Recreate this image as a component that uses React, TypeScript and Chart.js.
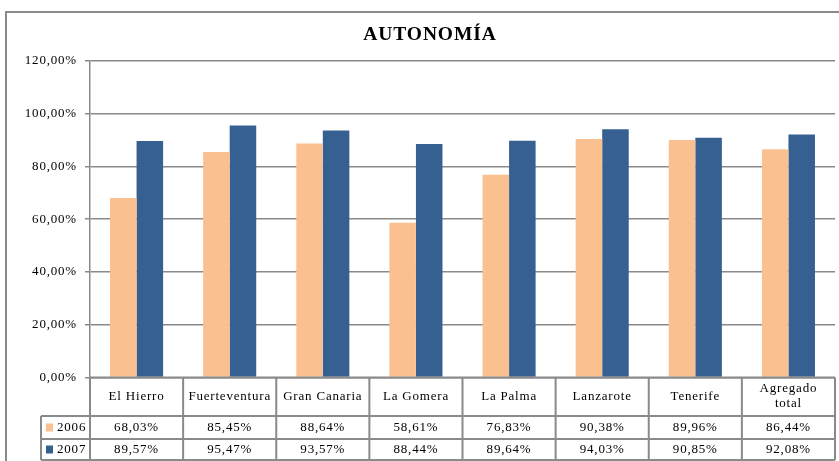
import React, { useEffect, useRef } from 'react';
import { Chart, registerables } from 'chart.js';

Chart.register(...registerables);

const categories = ['El Hierro', 'Fuerteventura', 'Gran Canaria', 'La Gomera', 'La Palma', 'Lanzarote', 'Tenerife', 'Agregado total'];
const headerLines = [['El Hierro'], ['Fuerteventura'], ['Gran Canaria'], ['La Gomera'], ['La Palma'], ['Lanzarote'], ['Tenerife'], ['Agregado', 'total']];
const seriesNames = ['2006', '2007'];
const values2006 = [68.03, 85.45, 88.64, 58.61, 76.83, 90.38, 89.96, 86.44];
const values2007 = [89.57, 95.47, 93.57, 88.44, 89.64, 94.03, 90.85, 92.08];
const yMin = 0;
const yMax = 120;
const yStep = 20;
const title = 'AUTONOMÍA';

const COLOR_2006 = '#FAC090';
const COLOR_2007 = '#376092';
const LINE = '#8a8a8a';
const FONT = '"Liberation Serif", "Times New Roman", serif';

const fmt = (v: number) => v.toFixed(2).replace('.', ',') + '%';

const tablePlugin = {
  id: 'dataTable',
  beforeDraw(chart: any) {
    const ctx = chart.ctx;
    ctx.save();
    ctx.fillStyle = '#ffffff';
    ctx.fillRect(0, 0, chart.width, chart.height);
    ctx.strokeStyle = LINE;
    ctx.lineWidth = 2;
    ctx.strokeRect(6, 12, chart.width + 60, chart.height + 60);
    // title
    (ctx as any).letterSpacing = '0.9px';
    ctx.fillStyle = '#000';
    ctx.font = 'bold 19.5px ' + FONT;
    ctx.textAlign = 'center';
    ctx.textBaseline = 'alphabetic';
    ctx.fillText(title, 430, 40);
    ctx.restore();
    (ctx as any).letterSpacing = '0.8px';
  },
  afterDraw(chart: any) {
    const ctx = chart.ctx;
    const area = chart.chartArea;
    const xs = chart.scales.x;
    const half = (xs.getPixelForValue(1) - xs.getPixelForValue(0)) / 2;
    const top = area.bottom;
    const r1 = 416;
    const r2 = 439;
    const r3 = 460;
    const legendLeft = 41;
    ctx.save();
    (ctx as any).letterSpacing = '0.8px';
    ctx.strokeStyle = LINE;
    ctx.lineWidth = 2;
    ctx.beginPath();
    ctx.moveTo(area.left, top); ctx.lineTo(area.right, top);
    [r1, r2, r3].forEach((y) => { ctx.moveTo(legendLeft, y); ctx.lineTo(area.right, y); });
    ctx.moveTo(legendLeft, r1); ctx.lineTo(legendLeft, r3);
    ctx.moveTo(area.left, top); ctx.lineTo(area.left, r3);
    categories.forEach((_, i) => {
      const xr = xs.getPixelForValue(i) + half;
      ctx.moveTo(xr, top); ctx.lineTo(xr, r3);
    });
    ctx.stroke();

    ctx.fillStyle = '#000';
    ctx.font = '13px ' + FONT;
    ctx.textAlign = 'center';
    ctx.textBaseline = 'middle';
    headerLines.forEach((lines, i) => {
      const cx = xs.getPixelForValue(i);
      if (lines.length === 1) {
        ctx.fillText(lines[0], cx, (top + r1) / 2);
      } else {
        ctx.fillText(lines[0], cx, (top + r1) / 2 - 8);
        ctx.fillText(lines[1], cx, (top + r1) / 2 + 7);
      }
    });
    const rows = [values2006, values2007];
    const rowCenters = [(r1 + r2) / 2, (r2 + r3) / 2];
    const colors = [COLOR_2006, COLOR_2007];
    rows.forEach((vals, ri) => {
      const cy = rowCenters[ri];
      vals.forEach((v, i) => {
        ctx.fillText(fmt(v), xs.getPixelForValue(i), cy + 0.5);
      });
      ctx.fillStyle = colors[ri];
      ctx.fillRect(46, cy - 4, 7, 8);
      ctx.fillStyle = '#000';
      ctx.textAlign = 'left';
      ctx.fillText(seriesNames[ri], 57, cy + 0.5);
      ctx.textAlign = 'center';
    });
    ctx.restore();
  },
};

export default function App() {
  const ref = useRef<HTMLCanvasElement | null>(null);
  useEffect(() => {
    document.body.style.margin = '0';
    if (!ref.current) return;
    const chart = new Chart(ref.current, {
      type: 'bar',
      data: {
        labels: categories,
        datasets: [
          { label: seriesNames[0], data: values2006, backgroundColor: COLOR_2006, categoryPercentage: 0.57, barPercentage: 1 },
          { label: seriesNames[1], data: values2007, backgroundColor: COLOR_2007, categoryPercentage: 0.57, barPercentage: 1 },
        ],
      },
      options: {
        animation: false,
        responsive: true,
        maintainAspectRatio: false,
        layout: { padding: { top: 60.7, left: 0, right: 4, bottom: 0 } },
        plugins: {
          legend: { display: false },
          title: { display: false },
          tooltip: { enabled: false },
        },
        scales: {
          x: {
            grid: { display: false },
            border: { display: false },
            ticks: { display: false },
            afterFit: (s: any) => { s.height = 83.5; },
          },
          y: {
            min: yMin,
            max: yMax,
            ticks: {
              stepSize: yStep,
              color: '#000',
              font: { family: FONT, size: 13 },
              padding: 8,
              callback: (v: any) => fmt(Number(v)),
            },
            grid: { color: LINE, lineWidth: 1.5, tickLength: 5 },
            border: { display: true, color: LINE, width: 1.5 },
            afterFit: (s: any) => { s.width = 90; },
          },
        },
      },
      plugins: [tablePlugin],
    });
    return () => chart.destroy();
  }, []);
  return (
    <div style={{ position: 'relative', width: 839, height: 461 }}>
      <canvas ref={ref} />
    </div>
  );
}
